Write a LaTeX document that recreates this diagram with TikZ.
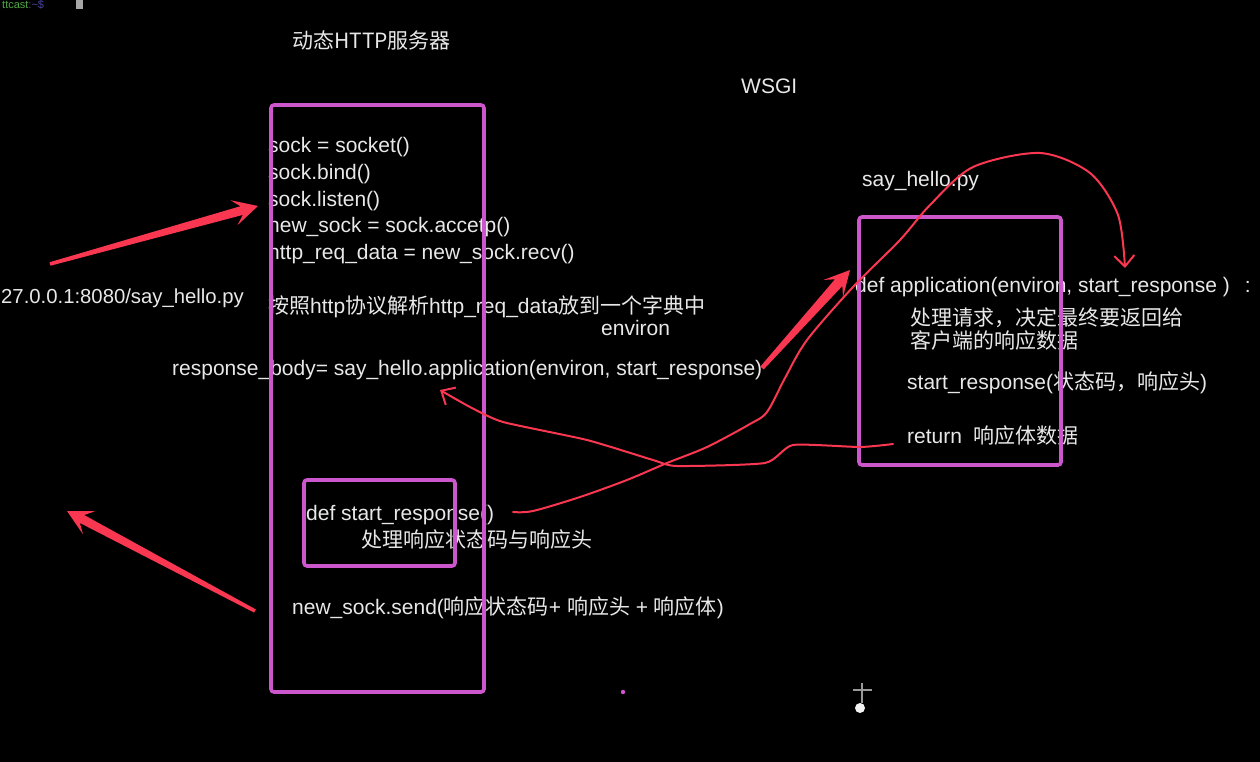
\documentclass[tikz,border=0pt]{standalone}
\usepackage{fontspec}
\setmainfont{Liberation Sans}
\newfontfamily\cjk{Noto Sans CJK SC}
\usetikzlibrary{arrows.meta,calc}
\definecolor{mag}{RGB}{204,86,204}
\definecolor{hred}{RGB}{250,55,80}
\definecolor{txt}{RGB}{232,232,232}
\definecolor{termgreen}{RGB}{80,170,70}
\definecolor{termblue}{RGB}{70,70,160}
\newcommand\fatarrow[5]{% tail, tip, tailw, neckw, wingw
  \fill[hred]
    ($(#1)!#3!90:(#2)$) --
    ($($(#2)!17pt!(#1)$)!#4!-90:(#1)$) --
    ($($(#2)!25pt!(#1)$)!#5!-90:(#1)$) --
    (#2) --
    ($($(#2)!25pt!(#1)$)!#5!90:(#1)$) --
    ($($(#2)!17pt!(#1)$)!#4!90:(#1)$) --
    ($(#1)!#3!-90:(#2)$) -- cycle;}
\begin{document}
\begin{tikzpicture}[x=1pt,y=-1pt,
  lbl/.style={text=txt, font=\fontsize{21}{24}\selectfont, inner sep=0pt, anchor=base west},
  boxline/.style={draw=mag, line width=3.6pt, rounded corners=3pt},
  thinred/.style={draw=hred, line width=2pt, line cap=round, line join=round},
  barb/.style={-{Straight Barb[length=11pt,width=20pt,line width=2pt]}}]
\fill[black] (0,0) rectangle (1260,762);
\useasboundingbox (0,0) rectangle (1260,762);

% terminal fragment
\node[inner sep=0pt, anchor=base west, font=\fontsize{11}{12}\selectfont] (term) at (2,9)
  {\textcolor{termgreen}{ttcast}\textcolor{termblue}{:\textasciitilde\$}};
\fill[gray!70] (76,0) rectangle (83,9);

% titles
\node[lbl, font=\cjk\fontsize{21}{24}\selectfont] (title) at (292,49) {动态HTTP服务器};
\node[lbl] (wsgi) at (741,94) {WSGI};

% server code
\node[lbl] (l1) at (268,153) {sock = socket()};
\node[lbl] (l2) at (268,179) {sock.bind()};
\node[lbl] (l3) at (268,206) {sock.listen()};
\node[lbl] (l4) at (268,232) {new\_sock = sock.accetp()};
\node[lbl] (l5) at (268,259) {http\_req\_data = new\_sock.recv()};
\node[lbl] (l6) at (268,313) {{\cjk 按照}http{\cjk 协议解析}http\_req\_data{\cjk 放到一个字典中}};
\node[lbl] (env) at (601,335) {environ};
\node[lbl] (resp) at (172,375) {response\_body= say\_hello.application(environ, start\_response)};
\node[lbl, font=\fontsize{20.3}{24}\selectfont] (url) at (1,303) {27.0.0.1:8080/say\_hello.py};
\node[lbl] (sr) at (306,520) {def start\_response()};
\node[lbl] (srz) at (361,547) {\cjk 处理响应状态码与响应头};
\node[lbl] (send) at (292,614) {new\_sock.send({\cjk 响应状态码}+ {\cjk 响应头} + {\cjk 响应体})};

% application code
\node[lbl] (sh) at (862,186) {say\_hello.py};
\node[lbl] (app) at (855,292) {def application(environ, start\_response )\hspace{15pt}:};
\node[lbl] (a1) at (910,325) {\cjk 处理请求，决定最终要返回给};
\node[lbl] (a2) at (910,348) {\cjk 客户端的响应数据};
\node[lbl] (a3) at (907,389) {start\_response({\cjk 状态码，响应头})};
\node[lbl] (a4) at (907,443) {return\ \ {\cjk 响应体数据}};

% boxes
\draw[boxline] (271,105) rectangle (484,692);
\draw[boxline] (304,480) rectangle (455,566);
\draw[boxline] (859,217) rectangle (1061,465);

% fat arrows
\coordinate (f1a) at (50,264);  \coordinate (f1b) at (258,206);
\coordinate (f2a) at (255,611); \coordinate (f2b) at (67,511);
\coordinate (f3a) at (762,368); \coordinate (f3b) at (850,270);
\fatarrow{f1a}{f1b}{1.8pt}{4.5pt}{13pt}
\fatarrow{f2a}{f2b}{1.8pt}{4.5pt}{13pt}
\fatarrow{f3a}{f3b}{2.2pt}{5pt}{13pt}

% thin curves
\coordinate (ca0) at (513,512);
\coordinate (ca1) at (1125,268);
\draw[thinred, barb] plot[smooth, tension=0.5] coordinates {
  (ca0) (533,511) (580,497) (627,480) (667,463) (707,447) (750,424) (767,412)
  (785,378) (807,340) (853,287) (900,240) (930,205) (973,167) (1040,153)
  (1090,173) (1118,215) (ca1)};
\coordinate (cb0) at (893,444);
\coordinate (cb1) at (440,390);
\draw[thinred, barb] plot[smooth, tension=0.35] coordinates {
  (cb0) (860,447) (793,445) (765,463) (677,466) (653,460) (587,440)
  (503,422) (470,407) (cb1)};

% small marks
\fill[mag] (623,692) circle (2.2);
\draw[gray!80, line width=2.5pt] (862,683) -- (862,703);
\draw[gray!80, line width=2.5pt] (853,690) -- (872,690);
\fill[white!90!gray] (860,708) circle (5);
\end{tikzpicture}
\end{document}
